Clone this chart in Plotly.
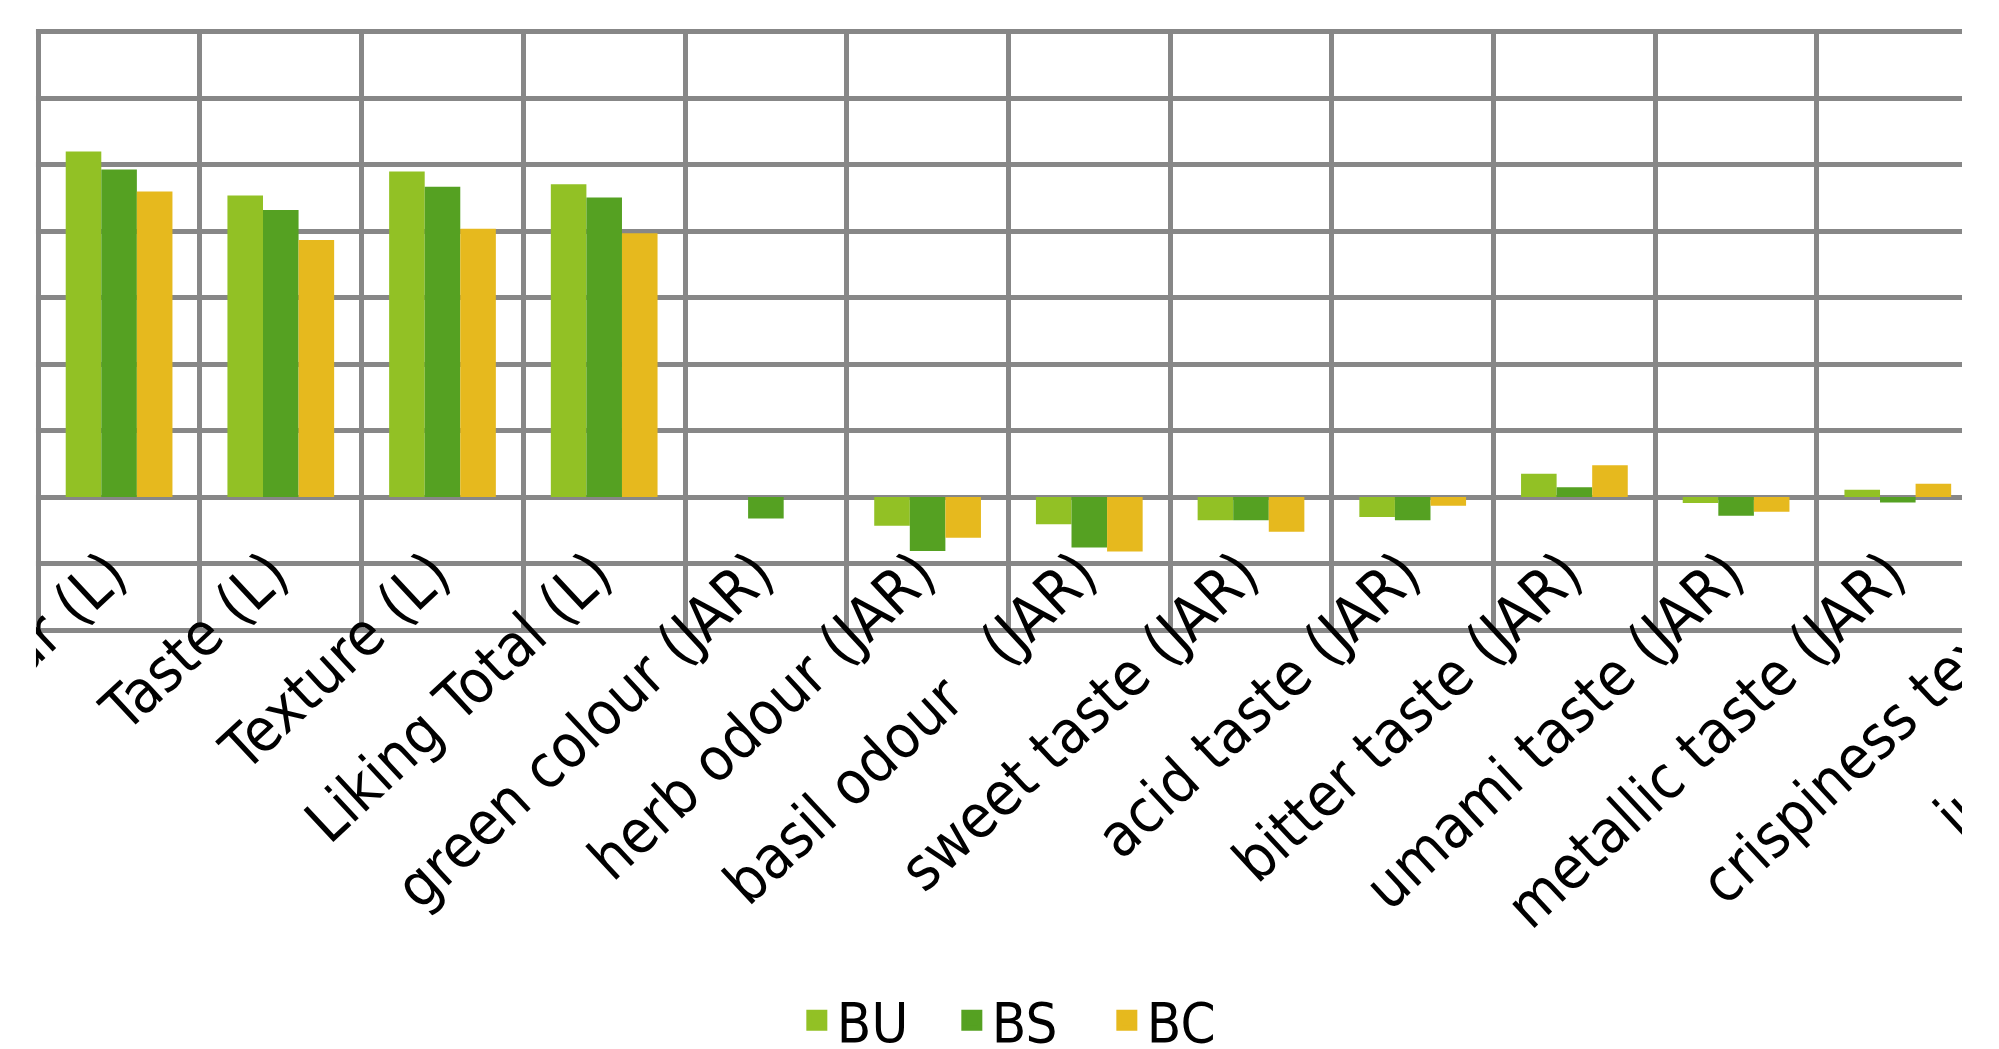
import plotly.graph_objects as go

# ---- data ----
categories = ["Odour (L)", "Taste (L)", "Texture (L)", "Liking Total (L)",
              "green colour (JAR)", "herb odour (JAR)", "basil odour\u00a0\u00a0 (JAR)",
              "sweet taste (JAR)", "acid taste (JAR)", "bitter taste (JAR)",
              "umami taste (JAR)", "metallic taste (JAR)",
              "crispiness texture", "juiciness (JAR)"]
series_names = ["BU", "BS", "BC"]
bu = [5.20, 4.54, 4.90, 4.71, 0.00, -0.43, -0.41, -0.35, -0.30, 0.35, -0.09, 0.11]
bs = [4.93, 4.32, 4.67, 4.51, -0.32, -0.81, -0.76, -0.35, -0.35, 0.15, -0.28, -0.08]
bc = [4.60, 3.87, 4.04, 3.97, 0.00, -0.61, -0.82, -0.52, -0.13, 0.48, -0.22, 0.20]
series_values = [bu, bs, bc]
colors = ["#92C125", "#55A122", "#E6B91E"]

# ---- layout parameters ----
W, H = 1962, 1049
ML, MR, MT, MB = 35, 0, 30, 417
x_range = [-0.52, 11.397]
y_range = [-2.03, 7.03]
axis_pos = 0.1766
FONT = "DejaVu Sans Condensed, DejaVu Sans"
FS = 60
ANGLE = -43
GRID = "#878787"
LABEL_SHIFT = -9

fig = go.Figure()
n_vis = len(bu)
for name, vals, col in zip(series_names, series_values, colors):
    fig.add_trace(go.Bar(name=name, x=categories[:n_vis], y=vals, showlegend=False,
                         legendgroup=name, marker=dict(color=col, line=dict(width=0))))
# legend entries (larger square swatches than the bar default)
for name, col in zip(series_names, colors):
    fig.add_trace(go.Scatter(name=name, x=[None], y=[None], mode="markers", legendgroup=name,
                             marker=dict(symbol="square", size=16, color=col,
                                         line=dict(color=col, width=5))))

# labels of categories whose ticks fall just outside the cropped plot range
annotations = []
for i in range(n_vis, len(categories)):
    xp = (i - x_range[0]) / (x_range[1] - x_range[0])
    annotations.append(dict(text=categories[i], x=xp, y=axis_pos, xref="paper", yref="paper",
                            xanchor="right", yanchor="top", textangle=ANGLE, showarrow=False,
                            font=dict(family=FONT, size=FS, color="black"),
                            xshift=29 + LABEL_SHIFT + 9, yshift=-10))

fig.update_layout(
    width=W, height=H,
    margin=dict(l=ML, r=MR, t=MT, b=MB, autoexpand=False),
    paper_bgcolor="white", plot_bgcolor="white",
    barmode="group", bargap=0.34, bargroupgap=0,
    font=dict(family=FONT, size=FS, color="black"),
    xaxis=dict(type="category", categoryorder="array", categoryarray=categories,
               range=x_range, tickson="boundaries", showgrid=True, gridcolor=GRID, gridwidth=4.5,
               tickangle=ANGLE, ticks="", showline=False, zeroline=False,
               anchor="free", position=axis_pos, automargin=False, ticklabelshift=LABEL_SHIFT,
               tickfont=dict(family=FONT, size=FS, color="black")),
    yaxis=dict(range=y_range, tickmode="array", tickvals=list(range(-2, 8)),
               showticklabels=False, showgrid=True, gridcolor=GRID, gridwidth=4.5,
               zeroline=False, showline=False, ticks="", automargin=False),
    legend=dict(orientation="h", x=0.516, xanchor="center", y=-0.645, yanchor="middle",
                itemsizing="trace", entrywidth=110, entrywidthmode="pixels",
                font=dict(family=FONT, size=56, color="black"), bgcolor="rgba(0,0,0,0)"),
    annotations=annotations,
    shapes=[dict(type="rect", xref="paper", yref="paper", x0=-0.2, x1=0.0005, y0=-1, y1=1.2,
                 fillcolor="white", line=dict(width=0), layer="above")],
)

fig.write_html("out.html")
